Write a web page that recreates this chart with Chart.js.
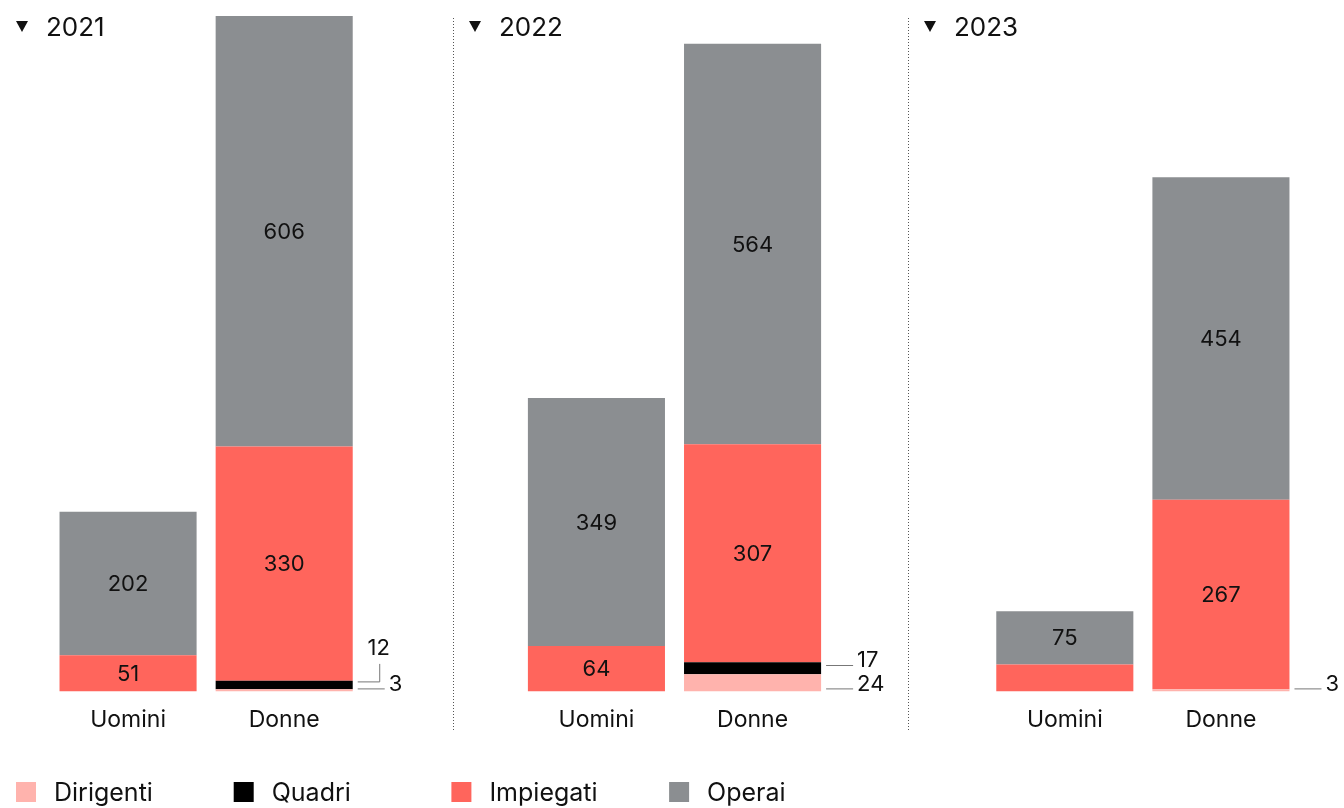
<!DOCTYPE html>
<html>
<head>
<meta charset="utf-8">
<script src="https://cdn.jsdelivr.net/npm/chart.js@4/dist/chart.umd.min.js"></script>
<style>
  html, body { margin: 0; padding: 0; background: #fff; }
  #chart { display: block; }
</style>
</head>
<body>
<canvas id="chart" width="1344" height="808"></canvas>
<script>
// dati per anno: Uomini, Donne
let years = ["2021", "2022", "2023"];
let groups = ["Uomini", "Donne"];

let dirigenti = [0, 3, 0, 24, 0, 3];
let quadri = [0, 12, 0, 17, 0, 0];
let impiegati = [51, 330, 64, 307, 38, 267];
let operai = [202, 606, 349, 564, 75, 454];

let seriesNames = ["Dirigenti", "Quadri", "Impiegati", "Operai"];
let seriesColors = ["#ffb3ad", "#000000", "#ff655c", "#8b8e91"];

let font = "Inter, 'Liberation Sans', Arial, sans-serif";
let ink = "#111";

// an empty slot between the years
function spread(values) {
  let out = [];
  values.forEach((v, i) => {
    if (i > 0 && i % 2 === 0) out.push(null);
    out.push(v);
  });
  return out;
}

let labels = [];
years.forEach((y, i) => {
  if (i > 0) labels.push("");
  groups.forEach((g) => labels.push(g));
});

let allSeries = [dirigenti, quadri, impiegati, operai];

let datasets = allSeries.map((values, i) => ({
  label: seriesNames[i],
  data: spread(values),
  backgroundColor: seriesColors[i],
  borderWidth: 0,
  barPercentage: 0.878,
  categoryPercentage: 1,
}));

let yMax = Math.max(
  ...dirigenti.map((v, i) => v + quadri[i] + impiegati[i] + operai[i])
);

let decorations = {
  id: "decorations",
  afterDatasetsDraw(chart) {
    let ctx = chart.ctx;
    let base = chart.chartArea.bottom;
    ctx.save();

    // numbers inside the big segments
    ctx.font = "22px " + font;
    ctx.fillStyle = ink;
    ctx.textAlign = "center";
    ctx.textBaseline = "middle";
    [2, 3].forEach((di) => {
      let meta = chart.getDatasetMeta(di);
      meta.data.forEach((bar, i) => {
        let v = chart.data.datasets[di].data[i];
        if (v == null || !v) return;
        if (Math.abs(bar.base - bar.y) < 30) return;
        ctx.fillText(String(v), bar.x, (bar.y + bar.base) / 2 + 1);
      });
    });

    // callouts for Dirigenti and Quadri
    ctx.strokeStyle = "#777";
    ctx.lineWidth = 1;
    ctx.textAlign = "left";
    let quaMeta = chart.getDatasetMeta(1);
    chart.getDatasetMeta(0).data.forEach((bar, i) => {
      let d = chart.data.datasets[0].data[i];
      let q = chart.data.datasets[1].data[i];
      if (d == null) return;
      let x0 = bar.x + bar.width / 2 + 5;
      let dy = base - 2.5;
      if (d) {
        ctx.beginPath();
        ctx.moveTo(x0, dy);
        ctx.lineTo(x0 + 27, dy);
        ctx.stroke();
        ctx.fillText(String(d), x0 + 31, dy - 5);
      }
      if (q) {
        let qb = quaMeta.data[i];
        let qy = Math.round((qb.y + qb.base) / 2) - 2.5;
        if (dy - qy < 16) {
          // too close to the Dirigenti callout: bend the leader upwards
          qy = dy - 7;
          ctx.beginPath();
          ctx.moveTo(x0, qy);
          ctx.lineTo(x0 + 22, qy);
          ctx.lineTo(x0 + 22, qy - 18);
          ctx.stroke();
          ctx.textAlign = "center";
          ctx.fillText(String(q), x0 + 21, qy - 34);
          ctx.textAlign = "left";
        } else {
          ctx.beginPath();
          ctx.moveTo(x0, qy);
          ctx.lineTo(x0 + 27, qy);
          ctx.stroke();
          ctx.fillText(String(q), x0 + 31, qy - 5);
        }
      }
    });

    // separators between years
    let seps = [453.5, 908.5];
    ctx.strokeStyle = "#555";
    ctx.setLineDash([1, 2]);
    seps.forEach((x) => {
      ctx.beginPath();
      ctx.moveTo(x, 18);
      ctx.lineTo(x, 732);
      ctx.stroke();
    });
    ctx.setLineDash([]);

    // year headers
    let heads = [0, 453, 908];
    ctx.textBaseline = "middle";
    years.forEach((y, i) => {
      let hx = heads[i] + 22;
      ctx.beginPath();
      ctx.moveTo(hx - 6, 21);
      ctx.lineTo(hx + 6, 21);
      ctx.lineTo(hx, 32);
      ctx.closePath();
      ctx.fillStyle = ink;
      ctx.fill();
      ctx.font = "26px " + font;
      ctx.textAlign = "left";
      ctx.fillText(y, hx + 24, 28);
    });

    // legend
    ctx.font = "25px " + font;
    seriesNames.forEach((name, i) => {
      let lx = 16 + i * 217.7;
      ctx.fillStyle = seriesColors[i];
      ctx.fillRect(lx, 782, 20, 20);
      ctx.fillStyle = ink;
      ctx.textAlign = "left";
      ctx.fillText(name, lx + 38, 793);
    });

    ctx.restore();
  },
};

new Chart(document.getElementById("chart"), {
  type: "bar",
  data: { labels: labels, datasets: datasets },
  options: {
    responsive: false,
    animation: false,
    layout: { padding: { left: 50, right: 45, top: 16, bottom: 67 } },
    plugins: { legend: { display: false }, tooltip: { enabled: false } },
    scales: {
      x: {
        stacked: true,
        grid: { display: false },
        border: { display: false },
        ticks: { color: ink, font: { family: font, size: 23 }, padding: 7 },
      },
      y: {
        stacked: true,
        display: false,
        min: 0,
        max: yMax,
      },
    },
  },
  plugins: [decorations],
});
</script>
</body>
</html>
